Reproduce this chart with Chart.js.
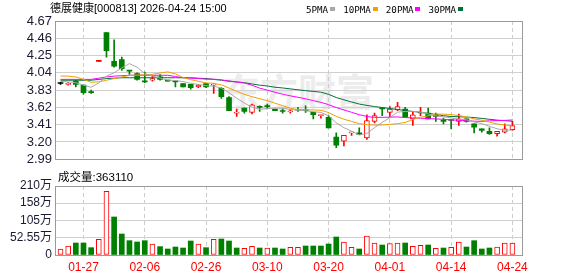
<!DOCTYPE html>
<html><head><meta charset="utf-8">
<script src="https://cdn.jsdelivr.net/npm/chart.js@4.4.1/dist/chart.umd.min.js"></script>
<style>
html,body{margin:0;padding:0;background:#fff;width:578px;height:276px;overflow:hidden;}
#wrap{position:relative;width:578px;height:276px;}
.t{position:absolute;white-space:nowrap;color:#000;}
canvas{position:absolute;left:0;}
#legend{display:flex;align-items:center;gap:8px;font:9.2px 'DejaVu Sans Mono';}
#legend span.sq{display:inline-block;width:5px;height:4px;margin-left:2px;}
</style></head><body>
<div id="wrap">
<div class="t" style="left:222px;top:70px;font:bold 38px 'Noto Sans CJK SC';line-height:40px;color:#ececec;">东方财富</div>
<canvas id="main" width="578" height="170" style="top:0"></canvas>
<canvas id="vol" width="578" height="106" style="top:170px"></canvas>
<div class="t" id="title" style="left:50px;top:1px;font:11px 'Liberation Sans','Noto Sans CJK SC';line-height:14px;"></div>
<div class="t" id="legend" style="left:306px;top:2px;height:14px;"></div>
<div class="t" id="volTitle" style="left:58px;top:170px;font:11.5px 'Liberation Sans','Noto Sans CJK SC';line-height:14px;"></div>
</div>
<script>
const titleText = '德展健康[000813] 2026-04-24 15:00';
const volTitleText = '成交量:363110';
const dates = ['01-22','01-23','01-26','01-27','01-28','01-29','01-30','02-02','02-03','02-04','02-05','02-06','02-09','02-10','02-11','02-12','02-13','02-24','02-25','02-26','02-27','03-02','03-03','03-04','03-05','03-06','03-09','03-10','03-11','03-12','03-13','03-16','03-17','03-18','03-19','03-20','03-23','03-24','03-25','03-26','03-27','03-30','03-31','04-01','04-02','04-03','04-07','04-08','04-09','04-10','04-13','04-14','04-15','04-16','04-17','04-20','04-21','04-22','04-23','04-24'];
const open  = [3.91,3.90,3.94,3.89,3.81,4.18,4.53,4.18,4.20,4.07,4.03,3.94,3.95,3.99,3.95,3.94,3.91,3.90,3.87,3.91,3.89,3.85,3.74,3.55,3.61,3.56,3.63,3.64,3.60,3.58,3.565,3.59,3.59,3.56,3.52,3.50,3.26,3.21,3.31,3.31,3.25,3.45,3.61,3.56,3.59,3.60,3.48,3.55,3.55,3.52,3.46,3.47,3.45,3.48,3.42,3.36,3.33,3.30,3.32,3.35];
const high  = [3.92,3.92,3.95,3.89,3.83,4.18,4.53,4.44,4.23,4.07,4.04,4.05,4.00,4.02,3.95,3.94,3.91,3.90,3.90,3.91,3.91,3.86,3.75,3.60,3.61,3.66,3.64,3.66,3.60,3.60,3.59,3.62,3.64,3.56,3.53,3.52,3.31,3.28,3.32,3.37,3.53,3.55,3.61,3.63,3.68,3.62,3.57,3.62,3.61,3.55,3.49,3.47,3.54,3.48,3.42,3.36,3.37,3.33,3.42,3.45];
const low   = [3.90,3.89,3.87,3.78,3.79,4.18,4.23,4.11,4.07,4.02,3.95,3.92,3.94,3.95,3.94,3.87,3.87,3.84,3.86,3.86,3.79,3.73,3.58,3.51,3.55,3.54,3.57,3.60,3.58,3.55,3.55,3.57,3.56,3.48,3.49,3.37,3.13,3.15,3.28,3.29,3.23,3.43,3.52,3.50,3.58,3.50,3.40,3.52,3.48,3.45,3.42,3.36,3.40,3.44,3.31,3.32,3.29,3.27,3.31,3.34];
const close = [3.91,3.91,3.90,3.80,3.80,4.18,4.31,4.12,4.09,4.06,3.96,3.93,3.97,3.96,3.94,3.93,3.87,3.86,3.89,3.87,3.90,3.75,3.58,3.56,3.57,3.65,3.62,3.63,3.58,3.57,3.575,3.585,3.58,3.53,3.525,3.37,3.16,3.28,3.32,3.29,3.46,3.52,3.60,3.60,3.63,3.50,3.53,3.56,3.48,3.51,3.45,3.46,3.48,3.45,3.38,3.34,3.30,3.33,3.36,3.40];
const prevClose0 = 3.91;
const ma5  = [3.935,3.93,3.92,3.89,3.864,3.918,3.998,4.042,4.100,4.152,4.108,4.032,4.002,3.976,3.952,3.946,3.934,3.912,3.898,3.884,3.878,3.854,3.798,3.732,3.672,3.622,3.596,3.606,3.610,3.610,3.595,3.588,3.578,3.568,3.559,3.518,3.433,3.373,3.331,3.284,3.302,3.374,3.438,3.494,3.562,3.570,3.572,3.564,3.540,3.516,3.506,3.492,3.476,3.470,3.444,3.422,3.390,3.360,3.342,3.346];
const ma10 = [4.00,4.00,3.99,3.96,3.925,3.93,3.95,3.97,3.99,4.008,4.013,4.015,4.022,4.038,4.052,4.027,3.983,3.957,3.937,3.918,3.912,3.894,3.855,3.815,3.778,3.750,3.725,3.702,3.671,3.641,3.609,3.592,3.592,3.589,3.585,3.557,3.511,3.476,3.450,3.422,3.410,3.404,3.406,3.413,3.423,3.436,3.473,3.501,3.517,3.539,3.538,3.532,3.520,3.505,3.480,3.464,3.441,3.418,3.406,3.395];
const ma20 = [3.96,3.96,3.96,3.96,3.96,3.975,3.99,4.00,4.005,4.01,4.01,4.01,4.01,4.01,4.01,3.995,3.98,3.975,3.97,3.963,3.963,3.955,3.939,3.927,3.915,3.889,3.854,3.830,3.804,3.780,3.760,3.743,3.724,3.702,3.681,3.653,3.618,3.589,3.560,3.531,3.509,3.498,3.499,3.501,3.504,3.496,3.492,3.488,3.483,3.480,3.474,3.468,3.463,3.459,3.452,3.450,3.457,3.460,3.462,3.467];
const ma30 = [3.95,3.95,3.95,3.95,3.95,3.96,3.97,3.975,3.98,3.98,3.98,3.98,3.98,3.98,3.98,3.98,3.98,3.98,3.975,3.97,3.96,3.95,3.94,3.93,3.92,3.905,3.89,3.88,3.865,3.856,3.845,3.834,3.823,3.814,3.805,3.778,3.740,3.712,3.686,3.660,3.644,3.630,3.618,3.606,3.595,3.581,3.570,3.560,3.546,3.534,3.519,3.509,3.506,3.502,3.496,3.486,3.475,3.465,3.458,3.452];
// volume in 万 shares
const volume = [18.3,27.4,36.5,36.5,22.3,47.7,193.8,115.7,63.9,43.6,39.6,43.6,33.5,25.4,18.3,24.3,21.3,42.6,33.5,22.3,47.7,48.7,42.6,21.3,20.3,26.4,21.3,21.3,21.3,18.3,23.3,23.3,27.4,27.4,27.4,33.5,54.8,39.6,23.3,18.3,57.8,36.5,30.4,34.5,36.5,36.5,26.4,29.4,30.4,20.3,21.3,23.3,39.6,24.3,43.6,18.3,21.3,24.3,36.5,36.3];
const volUp = [1,1,0,0,0,1,1,0,0,0,0,0,1,0,0,0,0,0,1,0,1,0,0,0,1,1,0,1,0,0,1,1,0,0,0,0,0,1,1,0,1,1,0,1,1,0,1,1,0,1,0,1,1,0,0,0,0,1,1,1];
const maNames = ['5PMA','10PMA','20PMA','30PMA'];
const maColors = ['#a8a8a8','#f0a000','#ff00ff','#00703a'];
const priceTicks = [2.99,3.20,3.41,3.62,3.83,4.04,4.25,4.46,4.67];
const volTicks = [0,52.55,105,158,210];
const volTickLabels = ['0','52.55万','105万','158万','210万'];
const dateTicks = ['01-27','02-06','02-26','03-10','03-20','04-01','04-14','04-24'];

const RED='#ff0000', GREEN='#008000', FLAT='#000000';
document.getElementById('title').textContent = titleText;
document.getElementById('volTitle').textContent = volTitleText;
const lg = document.getElementById('legend');
maNames.forEach((n,k)=>{const d=document.createElement('span');d.style.display='inline-flex';d.style.alignItems='center';
  d.innerHTML=n+'<span class="sq" style="background:'+maColors[k]+'"></span>';lg.appendChild(d);});

function candleColor(i){
  if(close[i]>open[i]) return RED;
  if(close[i]<open[i]) return GREEN;
  const pc = i? close[i-1] : prevClose0;
  return close[i]>pc?RED:(close[i]<pc?GREEN:FLAT);
}
const isHollow = i => close[i]>open[i];
const dateTickIdx = dateTicks.map(d=>dates.indexOf(d));
const XMIN=-0.72, XMAX=60.25;

const boxPlugin={id:'box',afterDraw(c){const a=c.chartArea,g=c.ctx;g.save();g.strokeStyle='#9a9a9a';g.lineWidth=1;
  g.strokeRect(Math.round(a.left)+0.5,Math.round(a.top)+0.5,Math.round(a.right-a.left),Math.round(a.bottom-a.top));g.restore();}};

const xCommon = (showTicks)=>({type:'linear',min:XMIN,max:XMAX,offset:false,
  afterBuildTicks:s=>{s.ticks=dateTickIdx.map(v=>({value:v}));},
  grid:{color:'#cccccc',drawTicks:false,offset:false},
  border:{display:false,dash:[4,3]},
  ticks:{display:showTicks,autoSkip:false,maxRotation:0,padding:5,color:'#ff0000',
    font:{family:"'Liberation Sans'",size:12},callback:v=>dates[v]}});

const line = (arr,k)=>({type:'line',data:arr.map((v,i)=>({x:i,y:v})),borderColor:maColors[k],borderWidth:1,pointRadius:0,order:0});

new Chart(document.getElementById('main'),{
  type:'bar',
  data:{datasets:[
    line(ma5,0), line(ma10,1), line(ma20,2), line(ma30,3),
    {data:dates.map((d,i)=>({x:i,y:[open[i],close[i]]})),barThickness:5,minBarLength:1,grouped:false,order:1,borderSkipped:false,
      backgroundColor:dates.map((d,i)=>isHollow(i)?'#ffffff':candleColor(i)),
      borderColor:dates.map((d,i)=>candleColor(i)),
      borderWidth:dates.map((d,i)=>isHollow(i)?1:0)},
    {data:dates.map((d,i)=>({x:i,y:[low[i],high[i]]})),barThickness:1,grouped:false,order:2,
      backgroundColor:dates.map((d,i)=>candleColor(i)),borderWidth:0}
  ]},
  options:{responsive:false,animation:false,devicePixelRatio:1,
    layout:{padding:{left:0,right:56,top:21,bottom:5}},
    plugins:{legend:{display:false},tooltip:{enabled:false}},
    scales:{
      x:Object.assign(xCommon(false),{afterFit:s=>{s.height=0;}}),
      y:{min:2.99,max:4.67,afterBuildTicks:s=>{s.ticks=priceTicks.map(v=>({value:v}));},
        grid:{color:'#d0d0d0',drawTicks:false},border:{display:false},
        ticks:{autoSkip:false,padding:3,color:'#1a1a33',font:{family:"'Liberation Sans'",size:13},callback:v=>Number(v).toFixed(2)},
        afterFit:s=>{s.width=55;}}
    }},
  plugins:[boxPlugin]
});

new Chart(document.getElementById('vol'),{
  type:'bar',
  data:{datasets:[
    {data:volume.map((v,i)=>({x:i,y:v})),barThickness:5,grouped:false,borderSkipped:false,
      backgroundColor:volUp.map(u=>u?'#ffffff':GREEN),
      borderColor:volUp.map(u=>u?RED:GREEN),
      borderWidth:volUp.map(u=>u?1:0)}
  ]},
  options:{responsive:false,animation:false,devicePixelRatio:1,
    layout:{padding:{left:0,right:56,top:16,bottom:0}},
    plugins:{legend:{display:false},tooltip:{enabled:false}},
    scales:{
      x:Object.assign(xCommon(true),{afterFit:s=>{s.height=21;}}),
      y:{min:0,max:210,afterBuildTicks:s=>{s.ticks=volTicks.map(v=>({value:v}));},
        grid:{color:'#d0d0d0',drawTicks:false},border:{display:false},
        ticks:{autoSkip:false,padding:3,color:'#1a1a33',font:{family:"'Liberation Sans','Noto Sans CJK SC'",size:12},
          callback:(v)=>volTickLabels[volTicks.indexOf(v)]},
        afterFit:s=>{s.width=55;}}
    }},
  plugins:[boxPlugin]
});
</script>
</body></html>
